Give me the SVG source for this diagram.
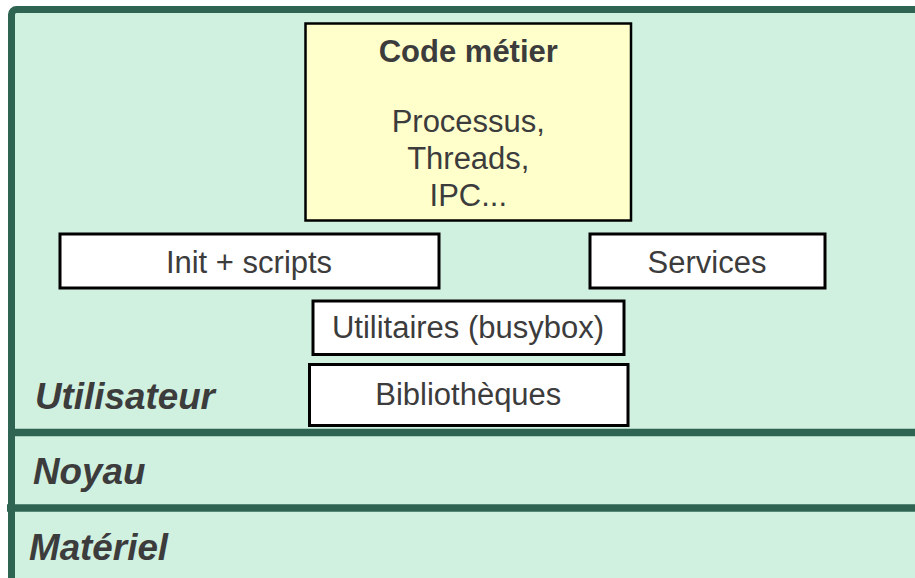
<svg xmlns="http://www.w3.org/2000/svg" width="915" height="578" viewBox="0 0 915 578">
<style>
.layer{fill:#d0f0e0;stroke:#2f6452;stroke-width:7}
.sep{stroke:#2f6452;stroke-width:7.5}
.box{fill:#ffffff;stroke:#000000;stroke-width:3}
.code{fill:#ffffcc;stroke:#000000;stroke-width:2.5}
.t{font-family:"Liberation Sans",Arial,sans-serif;font-size:31px;fill:#3c3c3c;text-anchor:middle}
.b{font-weight:bold}
.lbl{font-family:"Liberation Sans",Arial,sans-serif;font-size:36.8px;font-weight:bold;font-style:italic;fill:#3c3c3c}
</style>
<rect width="915" height="578" fill="#ffffff"/>
<g id="layers">
<rect class="layer" x="11.5" y="9.5" width="920" height="600" rx="5"/>
<line class="sep" x1="8" y1="432.5" x2="915" y2="432.5"/>
<line class="sep" x1="7" y1="508" x2="915" y2="508"/>
<text class="lbl" x="35" y="409">Utilisateur</text>
<text class="lbl" x="33" y="484">Noyau</text>
<text class="lbl" x="29" y="560">Matériel</text>
</g>
<g id="code-metier">
<rect class="code" x="305.5" y="23.5" width="325.5" height="197"/>
<text class="t b" x="468.3" y="62">Code métier</text>
<text class="t" x="468.3" y="132">Processus,</text>
<text class="t" x="468.3" y="168.5">Threads,</text>
<text class="t" x="468.3" y="205.5">IPC...</text>
</g>
<g id="init-scripts">
<rect class="box" x="60" y="234" width="379" height="54"/>
<text class="t" x="249" y="273.3">Init + scripts</text>
</g>
<g id="services">
<rect class="box" x="590" y="234" width="235" height="54"/>
<text class="t" x="707" y="273.3">Services</text>
</g>
<g id="utilitaires">
<rect class="box" x="313" y="301" width="311" height="53.5"/>
<text class="t" x="468" y="338.3">Utilitaires (busybox)</text>
</g>
<g id="bibliotheques">
<rect class="box" x="309.5" y="364.5" width="318.5" height="61"/>
<text class="t" x="468.3" y="405">Bibliothèques</text>
</g>
<g id="connectors"></g>
</svg>
